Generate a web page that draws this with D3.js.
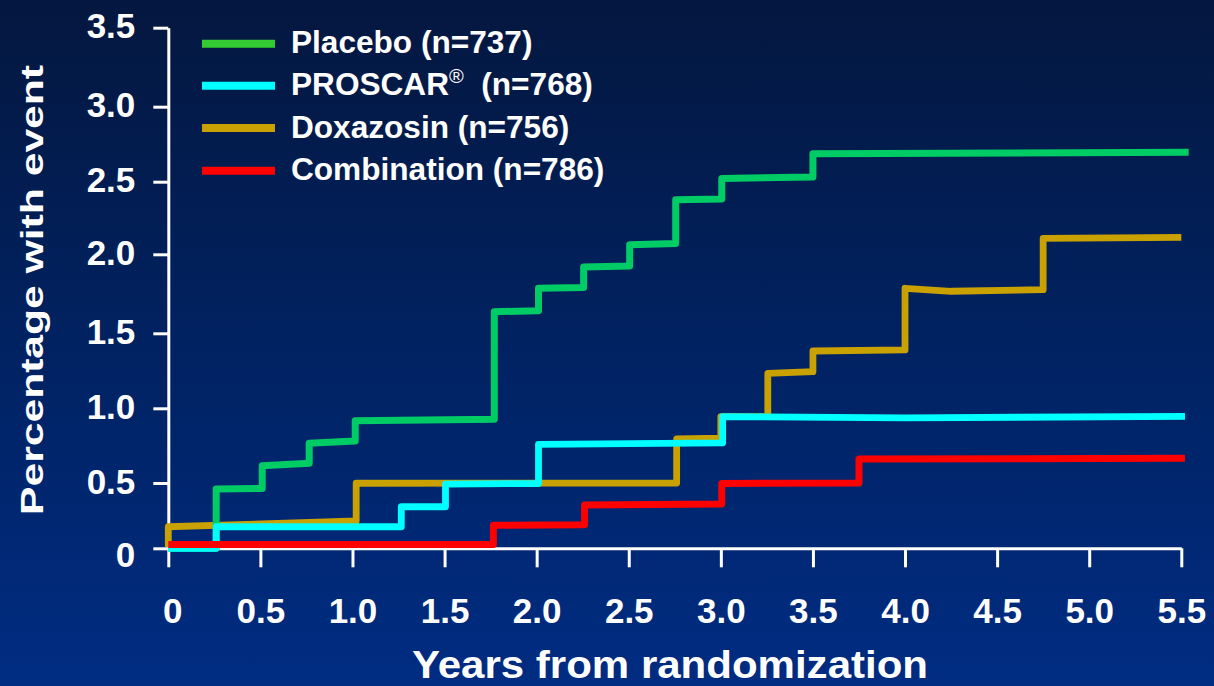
<!DOCTYPE html>
<html>
<head>
<meta charset="utf-8">
<script src="https://cdn.jsdelivr.net/npm/d3@7"></script>
<style>
  html, body { margin: 0; padding: 0; background: #00226a; }
  svg { display: block; }
  text { font-family: "Liberation Sans", Arial, Helvetica, sans-serif; font-weight: bold; fill: #ffffff; }
</style>
</head>
<body>
<svg id="chart" width="1214" height="686"></svg>
<script>
// ---- data: cumulative percentage of patients with an event, by year ----
const xTickValues = [0, 0.5, 1, 1.5, 2, 2.5, 3, 3.5, 4, 4.5, 5, 5.5];
const xTickLabels = ["0", "0.5", "1.0", "1.5", "2.0", "2.5", "3.0", "3.5", "4.0", "4.5", "5.0", "5.5"];
const yTickValues = [0, 0.5, 1, 1.5, 2, 2.5, 3, 3.5];
const yTickLabels = ["0", "0.5", "1.0", "1.5", "2.0", "2.5", "3.0", "3.5"];

const seriesNames = ["Placebo (n=737)", "PROSCAR", "Doxazosin (n=756)", "Combination (n=786)"];

// [year, percent] vertices of each step curve
const placebo = [
  [0, 0], [0.26, 0], [0.26, 0.454], [0.51, 0.458], [0.51, 0.616], [0.765, 0.632],
  [0.765, 0.766], [1.015, 0.781], [1.015, 0.917], [1.77, 0.926], [1.77, 1.637],
  [2.01, 1.642], [2.01, 1.785], [2.255, 1.79], [2.255, 1.92], [2.505, 1.926],
  [2.505, 2.066], [2.755, 2.075], [2.755, 2.376], [3.005, 2.38], [3.005, 2.522],
  [3.5, 2.532], [3.5, 2.686], [5.54, 2.696]
];
const proscar = [
  [0, 0], [0.26, 0], [0.26, 0.165], [1.265, 0.165], [1.265, 0.318], [1.505, 0.318],
  [1.505, 0.492], [2.01, 0.496], [2.01, 0.759], [3.01, 0.769], [3.01, 0.944],
  [4.0, 0.936], [5.52, 0.946]
];
const doxazosin = [
  [0, 0.01], [0, 0.165], [1.02, 0.209], [1.02, 0.498], [2.76, 0.5], [2.76, 0.795],
  [3.0, 0.8], [3.0, 0.944], [3.255, 0.944], [3.255, 1.233], [3.5, 1.244],
  [3.5, 1.382], [4.0, 1.389], [4.0, 1.785], [4.25, 1.766], [4.75, 1.776],
  [4.75, 2.11], [5.5, 2.117]
];
const combination = [
  [0, 0.03], [1.765, 0.03], [1.765, 0.176], [2.26, 0.18], [2.26, 0.331],
  [3.005, 0.34], [3.005, 0.497], [3.75, 0.5], [3.75, 0.66], [5.52, 0.665]
];

// ---- layout ----
const W = 1214, H = 686;
const svg = d3.select("#chart");

const defs = svg.append("defs");
const bg = defs.append("linearGradient").attr("id", "bg")
  .attr("x1", 0).attr("y1", 0).attr("x2", 0).attr("y2", 1);
bg.append("stop").attr("offset", "0%").attr("stop-color", "#04173f");
bg.append("stop").attr("offset", "45%").attr("stop-color", "#01215e");
bg.append("stop").attr("offset", "100%").attr("stop-color", "#002c82");
svg.append("rect").attr("width", W).attr("height", H).attr("fill", "url(#bg)");

const x = d3.scaleLinear().domain([0, 5.5]).range([168.3, 1181.3]);
// the printed vertical axis has uneven tick spacing, so map tick by tick
const y = d3.scaleLinear()
  .domain(yTickValues)
  .range([548.3, 483, 408.3, 333.3, 254.3, 181.7, 106.7, 27.7]);

// ---- axes ----
const xAxis = svg.append("g")
  .attr("transform", `translate(0,${y(0)})`)
  .call(d3.axisBottom(x).tickValues(xTickValues).tickSize(19).tickSizeOuter(0)
    .tickFormat((d, i) => xTickLabels[i]));
xAxis.select(".domain").attr("stroke", "#fff").attr("stroke-width", 3);
xAxis.selectAll(".tick line").attr("stroke", "#fff").attr("stroke-width", 3);
xAxis.selectAll(".tick text")
  .attr("y", 74.5).attr("dy", 0)
  .attr("dx", (d, i) => i === 0 ? 4 : 0)
  .style("font-size", "35px").attr("fill", "#fff");

const yAxis = svg.append("g")
  .attr("transform", `translate(${x(0)},0)`)
  .call(d3.axisLeft(y).tickValues(yTickValues).tickSize(15).tickSizeOuter(0)
    .tickFormat((d, i) => yTickLabels[i]));
yAxis.select(".domain").attr("stroke", "#fff").attr("stroke-width", 3);
yAxis.selectAll(".tick line").attr("stroke", "#fff").attr("stroke-width", 3);
yAxis.selectAll(".tick text")
  .attr("x", -33).attr("dy", d => d === 0 ? 18 : 10)
  .style("font-size", "35px").attr("fill", "#fff");
svg.selectAll(".tick text").attr("font-family", null);

// ---- axis titles ----
svg.append("text")
  .attr("transform", `translate(42.5,290) rotate(-90)`)
  .attr("text-anchor", "middle")
  .attr("textLength", 450).attr("lengthAdjust", "spacingAndGlyphs")
  .style("font-size", "31px")
  .text("Percentage with event");

svg.append("text")
  .attr("x", 670).attr("y", 678)
  .attr("text-anchor", "middle")
  .attr("textLength", 516).attr("lengthAdjust", "spacingAndGlyphs")
  .style("font-size", "38px")
  .text("Years from randomization");

// ---- curves ----
const line = d3.line().x(d => x(d[0])).y(d => y(d[1]));
const curves = [
  { data: doxazosin, color: "#c9a100", width: 6.8 },
  { data: placebo, color: "#00cc66", width: 7 },
  { data: proscar, color: "#00ffff", width: 6.8 },
  { data: combination, color: "#ff0000", width: 7 }
];
svg.append("g").selectAll("path").data(curves).join("path")
  .attr("d", d => line(d.data))
  .attr("fill", "none")
  .attr("stroke", d => d.color)
  .attr("stroke-width", d => d.width)
  .attr("stroke-linejoin", "round")
  .attr("stroke-linecap", "butt");

// ---- legend ----
const legendColors = ["#33cc33", "#00ffff", "#c9a100", "#ff0000"];
const legendRowY = [43.7, 85.7, 128, 170.7];
const legend = svg.append("g");
const rows = legend.selectAll("g").data(seriesNames).join("g")
  .attr("transform", (d, i) => `translate(0,${legendRowY[i]})`);
rows.append("line")
  .attr("x1", 202).attr("x2", 275)
  .attr("stroke", (d, i) => legendColors[i])
  .attr("stroke-width", 8);
rows.append("text")
  .attr("x", 291).attr("y", 9.5)
  .style("font-size", "31.6px")
  .attr("xml:space", "preserve")
  .style("white-space", "pre")
  .each(function (d, i) {
    const t = d3.select(this);
    if (d === "PROSCAR") {
      t.append("tspan").text("PROSCAR");
      t.append("tspan").attr("dy", -12).style("font-size", "20px").style("font-weight", "normal").text("\u00AE");
      t.append("tspan").attr("dy", 12).text("  (n=768)");
    } else {
      t.text(d);
    }
  });
</script>
</body>
</html>
